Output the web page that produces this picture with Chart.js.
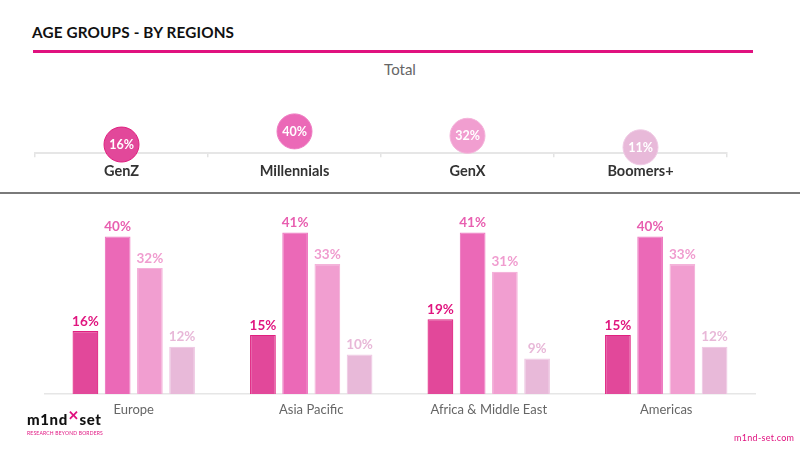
<!DOCTYPE html>
<html>
<head>
<meta charset="utf-8">
<script src="https://cdn.jsdelivr.net/npm/chart.js@4/dist/chart.umd.min.js"></script>
<style>
  html,body{margin:0;padding:0;background:#fff;width:800px;height:450px;overflow:hidden;font-family:Lato,"Noto Sans",sans-serif;}
  .abs{position:absolute;}
  #title{left:32px;top:23px;font-size:15.3px;font-weight:700;color:#111;letter-spacing:0.15px;}
  #pinkline{left:33px;top:50px;width:720px;height:2.5px;background:#e0117f;}
  #total{left:0;width:800px;top:60px;text-align:center;font-size:15px;color:#666;}
  #sep{left:0;top:192px;width:800px;height:2px;background:#7a7a7a;}
  #topWrap{left:0;top:80px;width:800px;height:110px;}
  #botWrap{left:0;top:190px;width:800px;height:260px;}
  #site{left:734px;top:432px;font-size:9px;color:#e0117f;letter-spacing:0.3px;}
  #logo{left:27px;top:412px;}
  #logo .main{font-size:15px;font-weight:900;color:#111;letter-spacing:0.6px;line-height:15px;position:relative;}
  #logo .main .x{color:#e0117f;font-weight:900;position:relative;top:-5px;font-size:13px;}
  #logo .tag{font-size:5px;color:#e0117f;letter-spacing:0.2px;white-space:nowrap;margin-top:2px;}
</style>
</head>
<body>
<div id="title" class="abs">AGE GROUPS - BY REGIONS</div>
<div id="pinkline" class="abs"></div>
<div id="total" class="abs">Total</div>
<div id="topWrap" class="abs"><canvas id="topChart"></canvas></div>
<div id="sep" class="abs"></div>
<div id="botWrap" class="abs"><canvas id="botChart"></canvas></div>
<div id="logo" class="abs"><div class="main">m1nd<span class="x">✕</span>set</div><div class="tag">RESEARCH BEYOND BORDERS</div></div>
<div id="site" class="abs">m1nd-set.com</div>
<script>
// ---- data ----
const ageGroups = ["GenZ", "Millennials", "GenX", "Boomers+"];
const totalValues = [16, 40, 32, 11];
const regions = ["Europe", "Asia Pacific", "Africa & Middle East", "Americas"];
const genZ = [16, 15, 19, 15];
const millennials = [40, 41, 41, 40];
const genX = [32, 33, 31, 33];
const boomers = [12, 10, 9, 12];

// ---- styles ----
const fillColors = ["#e2489a", "#eb69b7", "#f19ed0", "#e8b9d9"];
const borderColors = ["#e0207f", "#ee7cc2", "#f4b3da", "#efcae4"];
const labelColors = ["#e0157f", "#e85fb0", "#f09ccf", "#e8b8d8"];
const FONT = "Lato, 'Noto Sans', sans-serif";

const circleLabels = {
  id: "circleLabels",
  afterDatasetsDraw(chart) {
    const ctx = chart.ctx;
    const meta = chart.getDatasetMeta(0);
    ctx.save();
    ctx.fillStyle = "#fff";
    ctx.font = "bold 12.5px " + FONT;
    ctx.textAlign = "center";
    ctx.textBaseline = "middle";
    meta.data.forEach((pt, i) => {
      ctx.fillText(chart.data.datasets[0].data[i] + "%", pt.x, pt.y + 0.5);
    });
    ctx.restore();
  }
};

new Chart(document.getElementById("topChart"), {
  type: "line",
  data: {
    labels: ageGroups,
    datasets: [{
      data: totalValues,
      showLine: false,
      pointRadius: 17.5,
      pointHoverRadius: 17.5,
      pointBackgroundColor: fillColors,
      pointBorderColor: borderColors,
      pointBorderWidth: 1,
      clip: false
    }]
  },
  options: {
    responsive: true,
    maintainAspectRatio: false,
    animation: false,
    events: [],
    layout: { padding: { left: 35, right: 73, top: 6.8, bottom: 0 } },
    plugins: { legend: { display: false }, tooltip: { enabled: false } },
    scales: {
      x: {
        offset: true,
        grid: { offset: true, drawOnChartArea: false, drawTicks: true, tickLength: 4, color: "#e3e3e3", lineWidth: 1.5 },
        border: { display: true, color: "#e6e6e6", width: 2 },
        ticks: { color: "#333", font: { family: FONT, size: 14.5, weight: "bold" }, padding: 5 },
        afterFit: s => { s.height = 36.7; }
      },
      y: { display: false, min: 0, max: 100 }
    }
  },
  plugins: [circleLabels]
});

const barLabels = {
  id: "barLabels",
  afterDatasetsDraw(chart) {
    const ctx = chart.ctx;
    ctx.save();
    ctx.font = "bold 13.5px " + FONT;
    ctx.textAlign = "center";
    ctx.textBaseline = "bottom";
    chart.data.datasets.forEach((ds, di) => {
      const meta = chart.getDatasetMeta(di);
      ctx.fillStyle = labelColors[di];
      meta.data.forEach((bar, i) => {
        ctx.fillText(ds.data[i] + "%", bar.x, bar.y - 3);
      });
    });
    ctx.restore();
  }
};

const series = [genZ, millennials, genX, boomers];
new Chart(document.getElementById("botChart"), {
  type: "bar",
  data: {
    labels: regions,
    datasets: series.map((d, i) => ({
      label: ageGroups[i],
      data: d,
      backgroundColor: fillColors[i],
      borderColor: borderColors[i],
      borderWidth: 1.2,
      barPercentage: 0.8,
      categoryPercentage: 0.726
    }))
  },
  options: {
    responsive: true,
    maintainAspectRatio: false,
    animation: false,
    events: [],
    layout: { padding: { left: 45, right: 45, top: 7, bottom: 0 } },
    plugins: { legend: { display: false }, tooltip: { enabled: false } },
    scales: {
      x: {
        grid: { display: true, drawOnChartArea: false, drawTicks: false },
        border: { display: true, color: "#e6e6e6", width: 1.5 },
        ticks: { color: "#666", font: { family: FONT, size: 13 }, padding: 8.2 },
        afterFit: s => { s.height = 56; }
      },
      y: { display: false, min: 0, max: 50 }
    }
  },
  plugins: [barLabels]
});
</script>
</body>
</html>
